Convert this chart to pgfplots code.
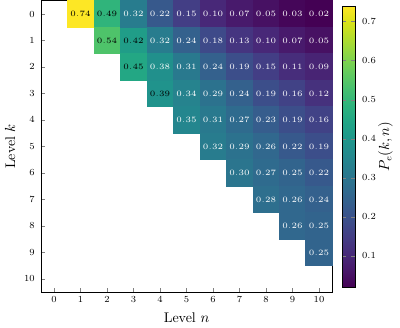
\documentclass[border=0pt]{standalone}
\usepackage{pgfplots}
\pgfplotsset{compat=1.18}
\usepackage{pgfplotstable}
\usepackage{graphicx}

% cells whose label is set in black
\pgfplotstableread{
n k v
1 0 0.74
2 0 0.49
2 1 0.54
3 1 0.42
3 2 0.45
4 3 0.39
}\darktable

% cells whose label is set in white
\pgfplotstableread{
n k v
3 0 0.32
4 0 0.22
5 0 0.15
6 0 0.10
7 0 0.07
8 0 0.05
9 0 0.03
10 0 0.02
4 1 0.32
5 1 0.24
6 1 0.18
7 1 0.13
8 1 0.10
9 1 0.07
10 1 0.05
4 2 0.38
5 2 0.31
6 2 0.24
7 2 0.19
8 2 0.15
9 2 0.11
10 2 0.09
5 3 0.34
6 3 0.29
7 3 0.24
8 3 0.19
9 3 0.16
10 3 0.12
5 4 0.35
6 4 0.31
7 4 0.27
8 4 0.23
9 4 0.19
10 4 0.16
6 5 0.32
7 5 0.29
8 5 0.26
9 5 0.22
10 5 0.19
7 6 0.30
8 6 0.27
9 6 0.25
10 6 0.22
8 7 0.28
9 7 0.26
10 7 0.24
9 8 0.26
10 8 0.25
10 9 0.25
}\lighttable

\pgfplotsset{
  cell/.style={scatter, only marks, mark=square*, mark size=9.94pt, point meta=explicit,
    scatter/use mapped color={draw=mapped color, fill=mapped color}},
  celllabel/.style={only marks, mark=none, point meta=explicit,
    nodes near coords={\scalebox{1.22}{\tiny\pgfmathprintnumber[fixed,fixed zerofill,precision=2]{\pgfplotspointmeta}}},
    nodes near coords align=center,
    every node near coord/.append style={text=#1, inner sep=0pt}},
}

\begin{document}
\begin{tikzpicture}
\begin{axis}[
  name=ax,
  scale only axis,
  width=218.6pt, height=218.6pt,
  xmin=-0.5, xmax=10.5, ymin=-0.5, ymax=10.5,
  y dir=reverse,
  xtick={0,...,10}, ytick={0,...,10},
  xtick pos=bottom, ytick pos=left,
  tick align=inside,
  major tick length=3.5pt,
  tick label style={font=\scriptsize},
  yticklabel style={xshift=-1pt},
  xlabel={Level $n$}, ylabel={Level $k$},
  label style={font=\fontsize{10.5}{12}\selectfont},
  xlabel style={at={(axis description cs:0.5,-0.088)}, anchor=center},
  ylabel style={at={(axis description cs:-0.1055,0.5)}, anchor=center},
  colormap/viridis,
  point meta min=0.02, point meta max=0.74,
  colorbar,
  colorbar style={
    width=9.75pt, height=210.75pt,
    at={(parent axis.east)}, anchor=west, xshift=-0.94pt,
    ytick={0.1,0.2,0.3,0.4,0.5,0.6,0.7},
    major tick length=3pt,
    yticklabel style={font=\scriptsize, xshift=1.5pt, /pgf/number format/fixed, /pgf/number format/precision=1},
    ylabel={$P_e(k,n)$},
    ylabel style={font=\fontsize{10.5}{12}\selectfont, at={(axis description cs:3.31,0.5)}, anchor=center},
  },
]
\addplot[cell] table[x=n, y=k, meta=v] {\darktable};
\addplot[cell] table[x=n, y=k, meta=v] {\lighttable};
\addplot[celllabel=black] table[x=n, y=k, meta=v] {\darktable};
\addplot[celllabel=white] table[x=n, y=k, meta=v] {\lighttable};
\end{axis}
\pgfresetboundingbox
\path[use as bounding box] ([shift={(-30.6pt,-26.8pt)}]ax.south west) rectangle ([shift={(50.8pt,0.56pt)}]ax.north east);
\end{tikzpicture}
\end{document}
